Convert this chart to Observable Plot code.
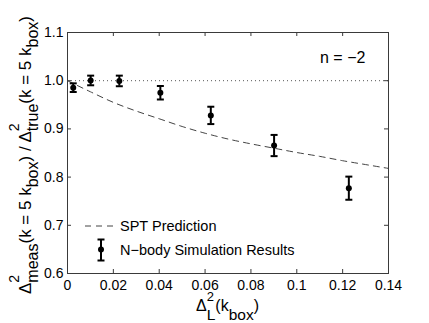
<!DOCTYPE html>
<html><head><meta charset="utf-8">
<script src="https://cdn.jsdelivr.net/npm/d3@7"></script>
<script src="https://cdn.jsdelivr.net/npm/@observablehq/plot@0.6"></script>
<style>body{margin:0;background:#fff}</style>
</head><body><div id="chart"></div>
<script>
const xTicks = [0, 0.02, 0.04, 0.06, 0.08, 0.1, 0.12, 0.14];
const xTickLabels = ["0", "0.02", "0.04", "0.06", "0.08", "0.1", "0.12", "0.14"];
const yTicks = [0.6, 0.7, 0.8, 0.9, 1.0, 1.1];
const yTickLabels = ["0.6", "0.7", "0.8", "0.9", "1.0", "1.1"];
// N-body simulation results
const simX = [0.0025, 0.0101, 0.0226, 0.0405, 0.0625, 0.0901, 0.1227];
const simY = [0.9855, 1.0005, 0.9995, 0.975, 0.928, 0.8655, 0.777];
const simErr = [0.009, 0.010, 0.011, 0.014, 0.018, 0.022, 0.024];
// SPT prediction
const sptX = [0, 0.01, 0.02, 0.03, 0.04, 0.05, 0.06, 0.07, 0.08, 0.09, 0.10, 0.11, 0.12, 0.13, 0.14];
const sptY = [1.0, 0.977, 0.955, 0.937, 0.921, 0.905, 0.891, 0.879, 0.869, 0.860, 0.851, 0.843, 0.834, 0.826, 0.818];
const refY = [1.0];
const annotation = "n = \u22122";
const legendLabels = ["SPT Prediction", "N\u2212body Simulation Results"];

const W = 429, H = 323, mL = 67, mR = 41, mT = 32, mB = 50;
const pw = W - mL - mR, ph = H - mT - mB;
const FONT = "'Liberation Sans', Arial, Helvetica, sans-serif";
const frameColor = "#3a3a3a";

const sim = simX.map((x, i) => ({x, y: simY[i], lo: simY[i] - simErr[i], hi: simY[i] + simErr[i]}));
const spt = sptX.map((x, i) => ({x, y: sptY[i]}));
const cap = {draw(ctx) { ctx.moveTo(-3.5, 0); ctx.lineTo(3.5, 0); }};
const fmt = (ticks, labels) => d => labels[ticks.findIndex(t => Math.abs(t - d) < 1e-9)];

const svg = Plot.plot({
  width: W, height: H,
  marginLeft: mL, marginRight: mR, marginTop: mT, marginBottom: mB,
  style: {fontFamily: FONT, fontSize: "14px", color: "black", background: "white"},
  x: {domain: [0, 0.14]},
  y: {domain: [0.6, 1.1]},
  marks: [
    Plot.ruleY(refY, {y: d => d, stroke: "#555", strokeDasharray: "1,3"}),
    Plot.line(spt, {x: "x", y: "y", stroke: "#444", strokeWidth: 1, strokeDasharray: "6,5", curve: "monotone-x"}),
    Plot.ruleX(sim, {x: "x", y1: "lo", y2: "hi", stroke: "black", strokeWidth: 2}),
    Plot.dot(sim, {x: "x", y: "hi", symbol: cap, stroke: "black", strokeWidth: 2, fill: "none"}),
    Plot.dot(sim, {x: "x", y: "lo", symbol: cap, stroke: "black", strokeWidth: 2, fill: "none"}),
    Plot.dot(sim, {x: "x", y: "y", r: 3, fill: "black", stroke: "none"}),
    Plot.tickX(xTicks, {x: d => d, insetTop: ph - 4, stroke: frameColor}),
    Plot.tickX(xTicks, {x: d => d, insetBottom: ph - 4, stroke: frameColor}),
    Plot.tickY(yTicks, {y: d => d, insetRight: pw - 4, stroke: frameColor}),
    Plot.tickY(yTicks, {y: d => d, insetLeft: pw - 4, stroke: frameColor}),
    Plot.axisX({ticks: xTicks, tickFormat: fmt(xTicks, xTickLabels), tickSize: 0, tickPadding: 7, label: null, fontSize: 14}),
    Plot.axisY({ticks: yTicks, tickFormat: fmt(yTicks, yTickLabels), tickSize: 0, tickPadding: 4, label: null, fontSize: 14}),
    Plot.frame({stroke: frameColor})
  ]
});
document.getElementById("chart").appendChild(svg);

const s = d3.select(svg);

function rich(g, parts, main, sub, sup, supShift, subShift) {
  let x = 0;
  for (const p of parts) {
    if (p.t) {
      const t = g.append("text").attr("x", x).attr("y", 0).attr("font-size", main)
        .style("white-space", "pre").text(p.t);
      x += t.node().getComputedTextLength();
    } else {
      let w = 0;
      if (p.sup) {
        const t = g.append("text").attr("x", x).attr("y", supShift).attr("font-size", sup).text(p.sup);
        w = Math.max(w, t.node().getComputedTextLength());
      }
      if (p.sub) {
        const t = g.append("text").attr("x", x).attr("y", subShift).attr("font-size", sub).text(p.sub);
        w = Math.max(w, t.node().getComputedTextLength());
      }
      x += w;
    }
  }
  return x;
}

// Y axis title
{
  const outer = s.append("g").attr("transform", `translate(31,155) rotate(-90)`)
    .attr("font-family", FONT).attr("fill", "black").attr("text-anchor", "start");
  const inner = outer.append("g");
  const w = rich(inner, [
    {t: "\u0394"}, {sup: "2", sub: "meas"}, {t: "(k = 5 k"}, {sub: "box"}, {t: ") / \u0394"},
    {sup: "2", sub: "true"}, {t: "(k = 5 k"}, {sub: "box"}, {t: ")"}
  ], 17, 16, 14, -12, 7);
  inner.attr("transform", `translate(${-w / 2},0)`);
}
// X axis title
{
  const outer = s.append("g").attr("transform", `translate(${mL + pw / 2},311)`)
    .attr("font-family", FONT).attr("fill", "black").attr("text-anchor", "start");
  const inner = outer.append("g");
  const w = rich(inner, [
    {t: "\u0394"}, {sup: "2", sub: "L"}, {t: "(k"}, {sub: "box"}, {t: ")"}
  ], 16, 15.5, 13, -10.5, 8.5);
  inner.attr("transform", `translate(${-w / 2},0)`);
}
// annotation
s.append("text").attr("x", 320).attr("y", 63).attr("font-family", FONT).attr("font-size", 16)
  .attr("text-anchor", "start").attr("fill", "black").text(annotation);

// legend
{
  const g = s.append("g").attr("font-family", FONT).attr("font-size", 14.5).attr("fill", "black")
    .attr("text-anchor", "start");
  g.append("line").attr("x1", 85).attr("x2", 116).attr("y1", 226).attr("y2", 226)
    .attr("stroke", "#444").attr("stroke-dasharray", "6,5");
  g.append("text").attr("x", 120).attr("y", 231).text(legendLabels[0]);
  g.append("line").attr("x1", 101).attr("x2", 101).attr("y1", 239.5).attr("y2", 260.5)
    .attr("stroke", "black").attr("stroke-width", 2);
  for (const yy of [239.5, 260.5]) {
    g.append("line").attr("x1", 97.5).attr("x2", 104.5).attr("y1", yy).attr("y2", yy)
      .attr("stroke", "black").attr("stroke-width", 2);
  }
  g.append("circle").attr("cx", 101).attr("cy", 249.5).attr("r", 3).attr("fill", "black");
  g.append("text").attr("x", 120).attr("y", 255).text(legendLabels[1]);
}
</script>
</body></html>
